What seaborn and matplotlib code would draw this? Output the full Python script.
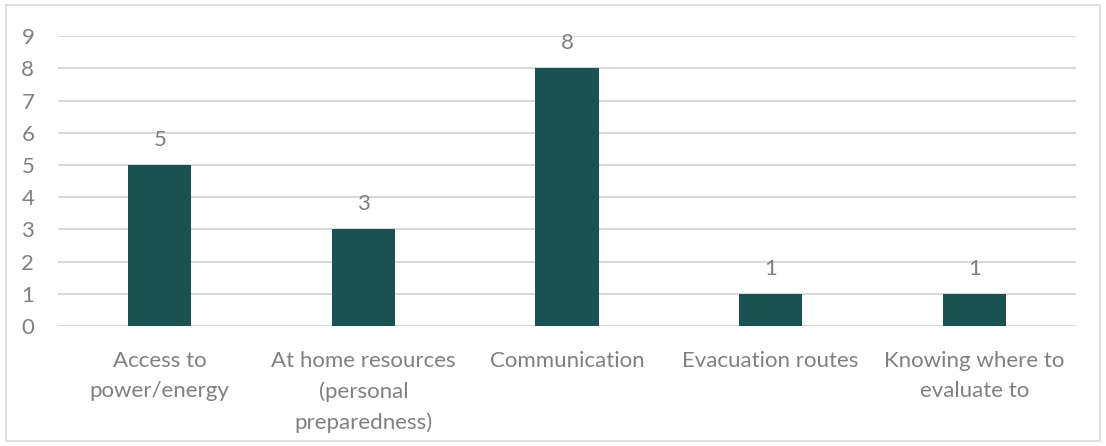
import pandas as pd
import seaborn as sns
import matplotlib.pyplot as plt
from matplotlib.patches import Rectangle

categories = [
    "Access to\npower/energy",
    "At home resources\n(personal\npreparedness)",
    "Communication",
    "Evacuation routes",
    "Knowing where to\nevaluate to",
]
counts = [5, 3, 8, 1, 1]

BAR_COLOR = "#1a5252"
TEXT_COLOR = "#808080"
GRID_COLOR = "#d9d9d9"

sns.set_theme(style="white")
plt.rcParams["font.family"] = ["Lato", "DejaVu Sans"]

df = pd.DataFrame({"category": categories, "count": counts})

fig = plt.figure(figsize=(11.06, 4.46), dpi=100)
ax = fig.add_axes([0.0524, 0.269, 0.9206, 0.650])

sns.barplot(data=df, x="category", y="count", color=BAR_COLOR, width=0.31,
            saturation=1, linewidth=0, ax=ax, zorder=3)

ax.set_ylim(0, 9)
ax.set_yticks(range(0, 10))
ax.yaxis.grid(True, color=GRID_COLOR, linewidth=1.5, zorder=0)
ax.set_axisbelow(True)
for side in ax.spines.values():
    side.set_visible(False)
ax.set_xlabel("")
ax.set_ylabel("")
ax.tick_params(axis="both", length=0, labelsize=16, labelcolor=TEXT_COLOR)
ax.tick_params(axis="x", pad=18)
ax.tick_params(axis="y", pad=17)
for lbl in ax.get_xticklabels():
    lbl.set_linespacing(1.64)

# подписи значений над столбцами
for cont in ax.containers:
    ax.bar_label(cont, labels=[str(v) for v in counts], padding=11,
                 fontsize=16, color=TEXT_COLOR)

# рамка вокруг всей диаграммы
fig.patches.append(Rectangle((0.005, 0.012), 0.99, 0.976, transform=fig.transFigure,
                             fill=False, edgecolor=GRID_COLOR, linewidth=1.2))

fig.savefig("out.png", dpi=100)
